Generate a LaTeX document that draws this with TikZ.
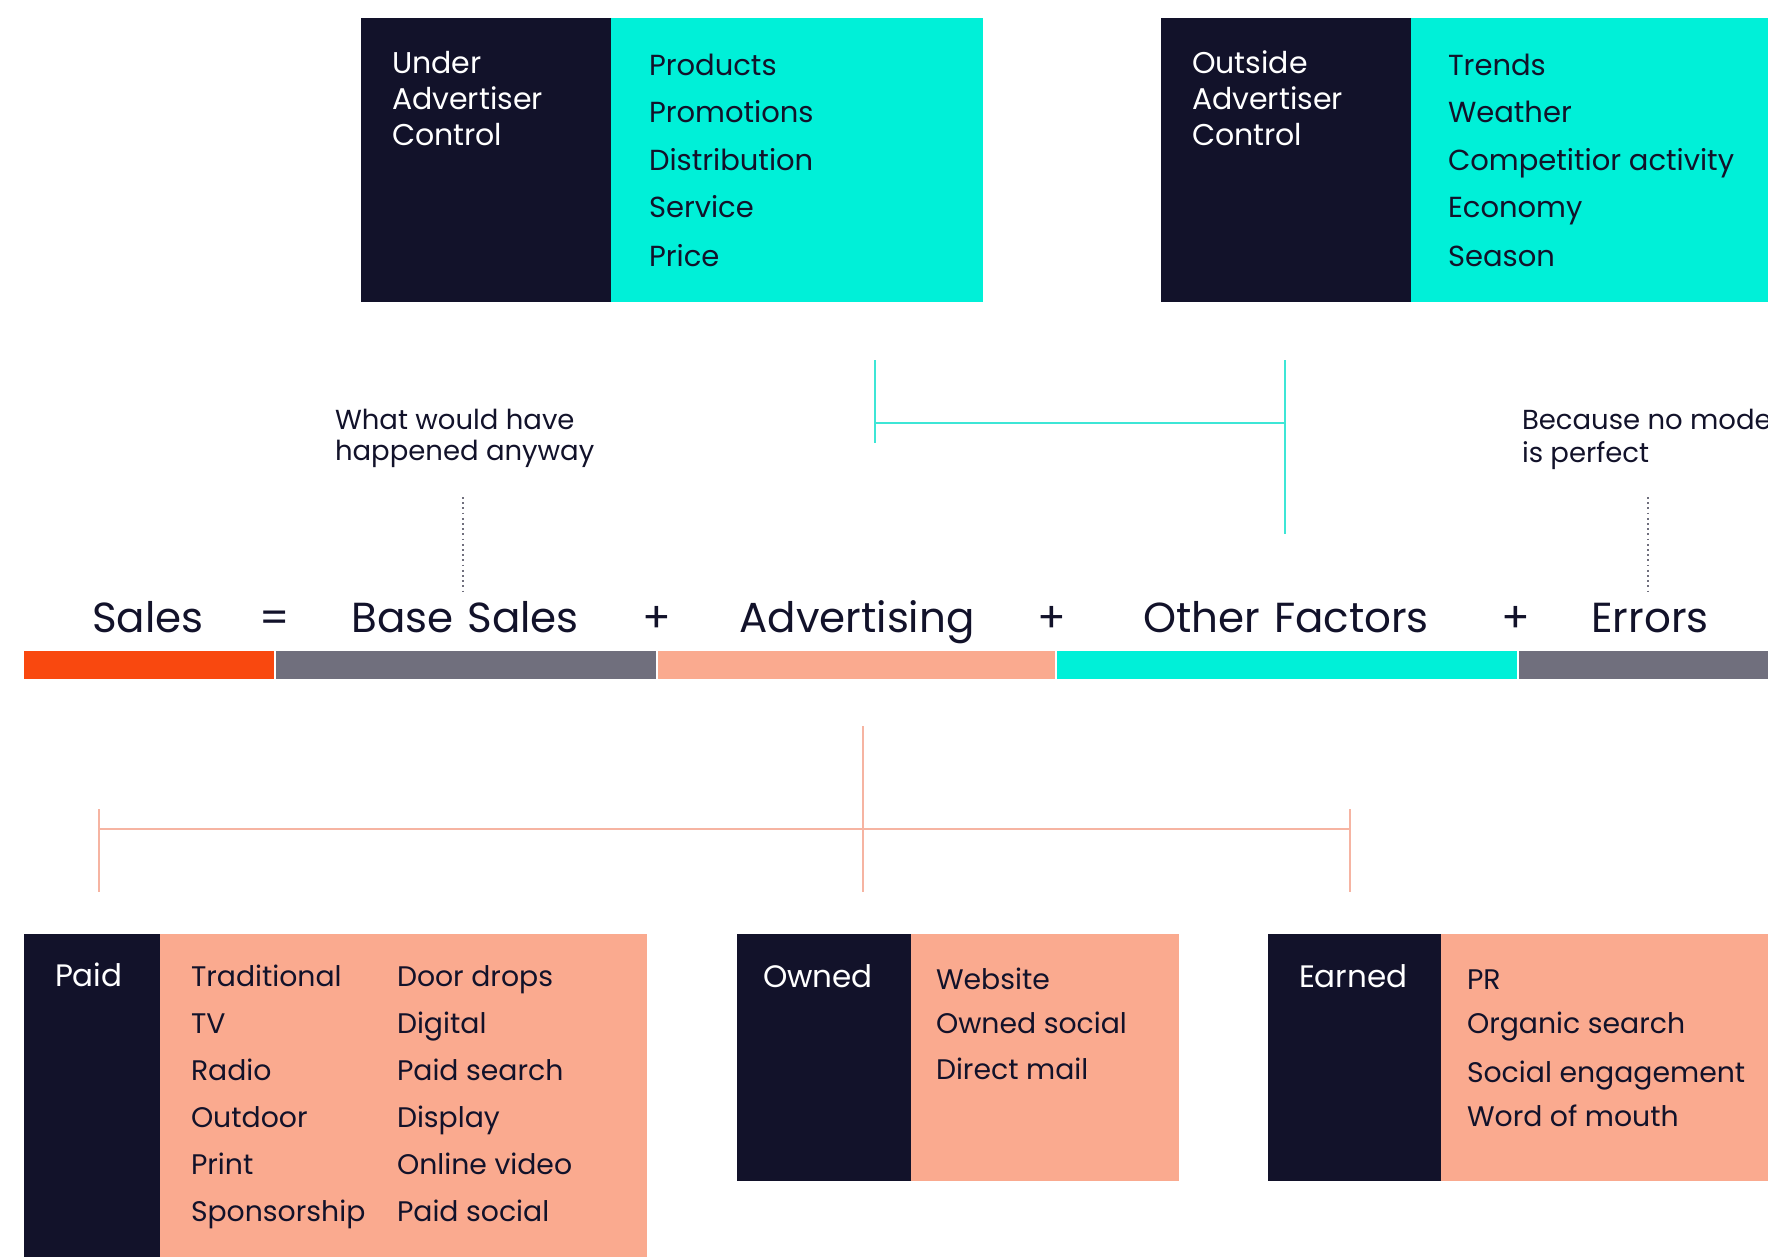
\documentclass[tikz,border=0pt]{standalone}
\usepackage{fontspec}
\setmainfont{Poppins}
\definecolor{navy}{HTML}{12122A}
\definecolor{aqua}{HTML}{00F0D8}
\definecolor{salmon}{HTML}{FAAA8F}
\definecolor{redo}{HTML}{F9480F}
\definecolor{slate}{HTML}{706F7D}
\definecolor{salmonline}{HTML}{F6B4A2}
\definecolor{aqualine}{HTML}{3EE6D6}
\begin{document}
\begin{tikzpicture}[x=1pt,y=-1pt,
  panel/.style={inner sep=0pt, outer sep=0pt, anchor=north west, draw=none},
  bar/.style={inner sep=0pt, outer sep=0pt, anchor=north west, draw=none, minimum height=28},
  txt/.style={inner sep=0pt, outer sep=0pt, anchor=base west, text=navy},
  ttl/.style={inner sep=0pt, outer sep=0pt, anchor=base west, text=white, font=\fontsize{30}{36}\selectfont},
  item/.style={txt, font=\fontsize{28.3}{34}\selectfont},
  topitem/.style={txt, font=\fontsize{29}{34}\selectfont},
  note/.style={txt, font=\fontsize{27.5}{32}\selectfont},
  eq/.style={inner sep=0pt, outer sep=0pt, anchor=base, text=navy, font=\fontsize{42}{50}\selectfont},
  aqbrk/.style={draw=aqualine, line width=1.5pt},
  sabrk/.style={draw=salmonline, line width=1.5pt},
  dots/.style={draw=slate, line width=1.7pt, dash pattern=on 1.7pt off 3.5pt}]
\useasboundingbox (0,0) rectangle (1768,1257);
\clip (0,0) rectangle (1768,1257);

% ---- top panels
\node[panel, fill=navy, minimum width=250, minimum height=284] (uacD) at (361,18) {};
\node[panel, fill=aqua, minimum width=372, minimum height=284] (uacL) at (611,18) {};
\node[panel, fill=navy, minimum width=250, minimum height=284] (oacD) at (1161,18) {};
\node[panel, fill=aqua, minimum width=357, minimum height=284] (oacL) at (1411,18) {};

\node[ttl] (u1) at (392,74) {Under};
\node[ttl] (u2) at (392,110) {Advertiser};
\node[ttl] (u3) at (392,146) {Control};
\node[ttl] (o1) at (1192,74) {Outside};
\node[ttl] (o2) at (1192,110) {Advertiser};
\node[ttl] (o3) at (1192,146) {Control};

\node[topitem] (ui1) at (649,76) {Products};
\node[topitem] (ui2) at (649,123) {Promotions};
\node[topitem] (ui3) at (649,171) {Distribution};
\node[topitem] (ui4) at (649,218) {Service};
\node[topitem] (ui5) at (649,266) {Price};

\node[topitem] (oi1) at (1448,76) {Trends};
\node[topitem] (oi2) at (1448,123) {Weather};
\node[topitem] (oi3) at (1448,171) {Competitior activity};
\node[topitem] (oi4) at (1448,218) {Economy};
\node[topitem] (oi5) at (1448,266) {Season};

% ---- aqua bracket
\coordinate (aqL1) at (875,360);
\coordinate (aqL2) at (875,443);
\coordinate (aqLm) at (875,423);
\coordinate (aqR1) at (1285,360);
\coordinate (aqR2) at (1285,534);
\coordinate (aqRm) at (1285,423);
\draw[aqbrk] (aqL1) -- (aqL2);
\draw[aqbrk] (aqR1) -- (aqR2);
\draw[aqbrk] (aqLm) -- (aqRm);

% ---- annotations
\node[note] (n1a) at (335,429) {What would have};
\node[note] (n1b) at (335,460) {happened anyway};
\node[note] (n2a) at (1522,429) {Because no model};
\node[note] (n2b) at (1522,462) {is perfect};
\coordinate (d1a) at (463,497);
\coordinate (d1b) at (463,591);
\coordinate (d2a) at (1648,497);
\coordinate (d2b) at (1648,591);
\draw[dots] (d1a) -- (d1b);
\draw[dots] (d2a) -- (d2b);

% ---- equation
\node[eq] (eSales) at (148,632) {Sales};
\node[eq] (eEq) at (275,632) {=};
\node[eq] (eBase) at (465,632) {Base\,\,Sales};
\node[eq] (eP1) at (657,632) {+};
\node[eq] (eAdv) at (857,632) {Advertising};
\node[eq] (eP2) at (1052,632) {+};
\node[eq] (eOth) at (1286,632) {Other\,\,Factors};
\node[eq] (eP3) at (1516,632) {+};
\node[eq] (eErr) at (1650,632) {Errors};

\node[bar, fill=redo, minimum width=250] (b1) at (24,651) {};
\node[bar, fill=slate, minimum width=380] (b2) at (276,651) {};
\node[bar, fill=salmon, minimum width=397] (b3) at (658,651) {};
\node[bar, fill=aqua, minimum width=460] (b4) at (1057,651) {};
\node[bar, fill=slate, minimum width=249] (b5) at (1519,651) {};

% ---- salmon bracket
\coordinate (sL1) at (99,809);
\coordinate (sL2) at (99,892);
\coordinate (sLm) at (99,829);
\coordinate (sC1) at (863,726);
\coordinate (sC2) at (863,892);
\coordinate (sR1) at (1350,809);
\coordinate (sR2) at (1350,892);
\coordinate (sRm) at (1350,829);
\draw[sabrk] (sL1) -- (sL2);
\draw[sabrk] (sC1) -- (sC2);
\draw[sabrk] (sR1) -- (sR2);
\draw[sabrk] (sLm) -- (sRm);

% ---- bottom panels
\node[panel, fill=navy, minimum width=136, minimum height=323] (paidD) at (24,934) {};
\node[panel, fill=salmon, minimum width=487, minimum height=323] (paidL) at (160,934) {};
\node[panel, fill=navy, minimum width=174, minimum height=247] (ownD) at (737,934) {};
\node[panel, fill=salmon, minimum width=268, minimum height=247] (ownL) at (911,934) {};
\node[panel, fill=navy, minimum width=173, minimum height=247] (earD) at (1268,934) {};
\node[panel, fill=salmon, minimum width=327, minimum height=247] (earL) at (1441,934) {};

\node[ttl, font=\fontsize{31}{36}\selectfont] (tPaid) at (55,986) {Paid};
\node[ttl, font=\fontsize{31}{36}\selectfont] (tOwn) at (763,987) {Owned};
\node[ttl, font=\fontsize{31}{36}\selectfont] (tEar) at (1299,987) {Earned};

\node[item] (p1) at (191,986) {Traditional};
\node[item] (p2) at (191,1033) {TV};
\node[item] (p3) at (191,1080) {Radio};
\node[item] (p4) at (191,1127) {Outdoor};
\node[item] (p5) at (191,1174) {Print};
\node[item] (p6) at (191,1221) {Sponsorship};
\node[item] (q1) at (397,986) {Door drops};
\node[item] (q2) at (397,1033) {Digital};
\node[item] (q3) at (397,1080) {Paid search};
\node[item] (q4) at (397,1127) {Display};
\node[item] (q5) at (397,1174) {Online video};
\node[item] (q6) at (397,1221) {Paid social};

\node[item] (w1) at (936,989) {Website};
\node[item] (w2) at (936,1033) {Owned social};
\node[item] (w3) at (936,1079) {Direct mail};

\node[item] (e1) at (1467,989) {PR};
\node[item] (e2) at (1467,1033) {Organic search};
\node[item] (e3) at (1467,1082) {Social engagement};
\node[item] (e4) at (1467,1126) {Word of mouth};
\end{tikzpicture}
\end{document}
